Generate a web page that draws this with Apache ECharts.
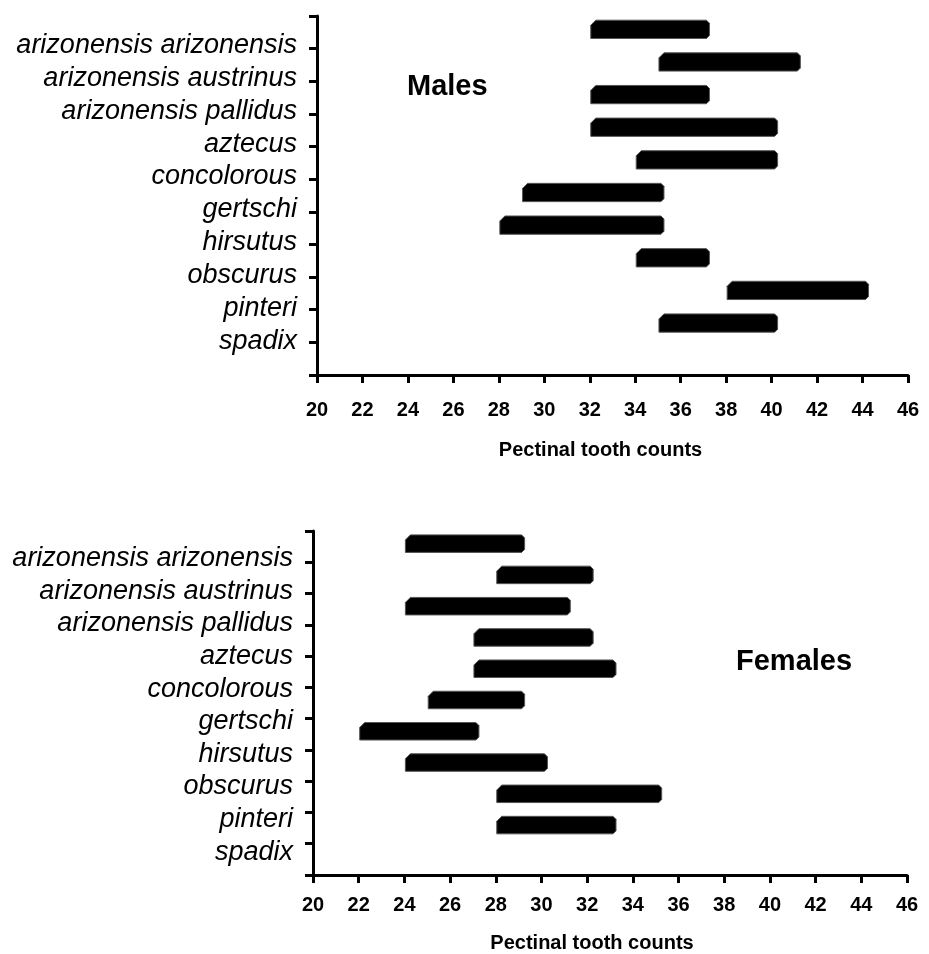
<!DOCTYPE html>
<html>
<head>
<meta charset="utf-8">
<script src="https://cdn.jsdelivr.net/npm/echarts@6/dist/echarts.min.js"></script>
<style>
  html, body { margin: 0; padding: 0; background: #fff; }
  #chart { width: 929px; height: 954px; }
</style>
</head>
<body>
<div id="chart"></div>
<script>
  // species, top to bottom
  var species = ['arizonensis arizonensis', 'arizonensis austrinus', 'arizonensis pallidus',
    'aztecus', 'concolorous', 'gertschi', 'hirsutus', 'obscurus', 'pinteri', 'spadix'];

  // pectinal tooth count ranges (min, max)
  var maleMin = [32, 35, 32, 32, 34, 29, 28, 34, 38, 35];
  var maleMax = [37, 41, 37, 40, 40, 35, 35, 37, 44, 40];
  var femaleMin = [24, 28, 24, 27, 27, 25, 22, 24, 28, 28];
  var femaleMax = [29, 32, 31, 32, 33, 29, 27, 30, 35, 33];

  var xTitle = 'Pectinal tooth counts';

  function rangeData(mins, maxs) {
    var out = [];
    for (var i = 0; i < mins.length; i++) {
      out.push([mins[i], maxs[i], i]);
    }
    return out;
  }

  // black bar with a bevelled left top corner, like the old excel 3d bars
  function renderBar(params, api) {
    var p0 = api.coord([api.value(0), api.value(2) + 0.5]);
    var p1 = api.coord([api.value(1), api.value(2) + 0.5]);
    var h = api.size([0, 1])[1] * 0.56;
    var x0 = p0[0] + 1, x1 = p1[0] + 6;
    var y0 = p0[1] - 3 - h / 2, y1 = p0[1] - 3 + h / 2;
    var c = 5, r = 3;
    return {
      type: 'polygon',
      shape: {
        points: [
          [x0, y1], [x0, y0 + c], [x0 + c, y0], [x1 - r, y0], [x1, y0 + r],
          [x1, y1 - r], [x1 - r, y1]
        ]
      },
      style: { fill: '#000', stroke: '#555', lineWidth: 1 }
    };
  }

  // axis carrying the line, the ticks and the bars
  function yAxis(idx) {
    return {
      type: 'value', gridIndex: idx, inverse: true,
      min: 0, max: 11, interval: 1,
      splitLine: { show: false },
      axisLine: { show: true, onZero: false, lineStyle: { color: '#000', width: 3 } },
      axisTick: { show: true, length: 8, lineStyle: { color: '#000', width: 3 } },
      axisLabel: { show: false }
    };
  }

  // the species names, spaced a little wider than the ticks as in the original
  // (bottom aligned with a short line height lifts each name a few px above its tick)
  function labelAxis(idx, max, lift) {
    return {
      type: 'value', gridIndex: idx, inverse: true, position: 'left',
      min: 0, max: max, interval: 1,
      splitLine: { show: false },
      axisLine: { show: false, onZero: false },
      axisTick: { show: false },
      axisLabel: {
        margin: 20, showMaxLabel: false,
        fontFamily: 'Liberation Sans', fontStyle: 'italic', fontSize: 27, color: '#000',
        verticalAlign: 'bottom', lineHeight: lift * 2,
        formatter: function (v) { return species[v - 1] || ''; }
      }
    };
  }

  function xAxis(idx, margin, gap, shift) {
    return {
      type: 'value', gridIndex: idx, min: 20, max: 46, interval: 2,
      splitLine: { show: false },
      axisLine: { show: true, onZero: false, lineStyle: { color: '#000', width: 3 } },
      axisTick: { show: true, length: 8, lineStyle: { color: '#000', width: 3 } },
      axisLabel: {
        margin: margin, fontFamily: 'Liberation Sans', fontWeight: 'bold',
        fontSize: 20, color: '#000'
      },
      name: xTitle, nameLocation: 'middle', nameGap: gap,
      nameTextStyle: {
        fontFamily: 'Liberation Sans', fontWeight: 'bold', fontSize: 20, color: '#000',
        padding: [0, shift, 0, 0]
      }
    };
  }

  var chart = echarts.init(document.getElementById('chart'));
  var option = {
    animation: false,
    backgroundColor: '#fff',
    grid: [
      { left: 317, right: 21, top: 16, height: 359 },
      { left: 313, right: 22, top: 531, height: 346 }
    ],
    xAxis: [xAxis(0, 25, 65, 24), xAxis(1, 20, 58, 36)],
    yAxis: [yAxis(0), yAxis(1), labelAxis(0, 10.88, 4), labelAxis(1, 10.55, 5)],
    graphic: [
      { type: 'text', left: 407, top: 72,
        style: { text: 'Males', fontFamily: 'Liberation Sans', fontWeight: 'bold', fontSize: 29, fill: '#000' } },
      { type: 'text', left: 736, top: 647,
        style: { text: 'Females', fontFamily: 'Liberation Sans', fontWeight: 'bold', fontSize: 29, fill: '#000' } }
    ],
    series: [
      { type: 'custom', name: 'Males', xAxisIndex: 0, yAxisIndex: 0,
        renderItem: renderBar, data: rangeData(maleMin, maleMax) },
      { type: 'custom', name: 'Females', xAxisIndex: 1, yAxisIndex: 1,
        renderItem: renderBar, data: rangeData(femaleMin, femaleMax) }
    ]
  };
  chart.setOption(option);
</script>
</body>
</html>
